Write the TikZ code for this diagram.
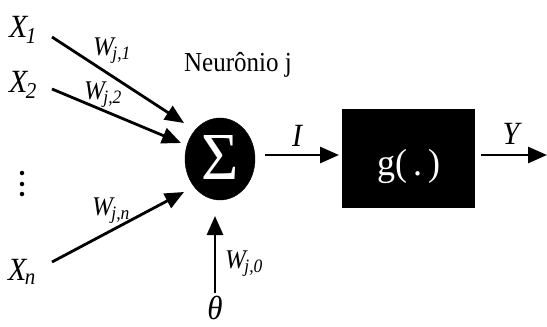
\documentclass[tikz,border=0pt]{standalone}
\usepackage{fontspec}
\setmainfont{Liberation Serif}
\usetikzlibrary{arrows.meta,shapes.geometric}
\begin{document}
\begin{tikzpicture}[x=1pt,y=-1pt,
  lbl/.style={inner sep=0pt, yscale=1.08, font=\fontsize{30}{32}\selectfont\itshape},
  wl/.style={inner sep=0pt, yscale=1.08, font=\fontsize{25}{28}\selectfont\itshape},
  arr/.style={line width=2.8pt, -{Triangle[length=19pt,width=16pt]}},
  dot/.style={circle, fill=black, inner sep=0pt, minimum size=4.5pt}]
\useasboundingbox (0,0) rectangle (547,327);
% nodes
\node[lbl] (x1) at (23,30) {X\textsubscript{\kern-1.5pt 1}};
\node[lbl] (x2) at (23,85) {X\textsubscript{\kern-1.5pt 2}};
\node[dot] (d1) at (22,173) {};
\node[dot] (d2) at (22,184) {};
\node[dot] (d3) at (22,194) {};
\node[lbl] (xn) at (22,272) {X\textsubscript{\kern-1.5pt\textit{n}}};
\node[draw, fill=black, ellipse, minimum width=70pt, minimum height=82pt, inner sep=0pt] (sum) at (220,159) {};
\node[inner sep=0pt, text=white, yscale=1.05, font=\fontsize{64}{64}\selectfont] (sig) at (220,157) {Σ};
\node[fill=black, minimum width=133pt, minimum height=99pt, inner sep=0pt] (g) at (408.5,158.5) {};
\node[inner sep=0pt, text=white, yscale=1.05, font=\fontsize{36}{38}\selectfont] (gt) at (409,166) {g(\,.\,)};
\node[inner sep=0pt, yscale=1.1, font=\fontsize{25}{28}\selectfont] (neu) at (238,65) {Neurônio j};
\node[lbl, font=\fontsize{31}{33}\selectfont\itshape] (theta) at (215,308) {θ};
\coordinate (t0) at (215,293);
\coordinate (t1) at (215,216);
\coordinate (a1s) at (52,37);
\coordinate (a1e) at (184,123);
\coordinate (a2s) at (52,89);
\coordinate (a2e) at (181,143);
\coordinate (ans) at (52,262);
\coordinate (ane) at (184,192);
\coordinate (is) at (265,155);
\coordinate (ie) at (339,155);
\coordinate (ys) at (481,155);
\coordinate (ye) at (547,155);
% labels
\node[wl] (w1) at (112,51) {W\textsubscript{\kern-1.5pt\textit{j,1}}};
\node[wl] (w2) at (103,95) {W\textsubscript{\kern-1.5pt\textit{j,2}}};
\node[wl] (wn) at (111,211) {W\textsubscript{\kern-1.5pt\textit{j,n}}};
\node[wl] (w0) at (244,264) {W\textsubscript{\kern-1.5pt\textit{j,0}}};
\node[lbl] (il) at (297,136) {I};
\node[lbl] (yl) at (511,134) {Y};
% arrows
\draw[arr] (a1s) -- (a1e);
\draw[arr] (a2s) -- (a2e);
\draw[arr] (ans) -- (ane);
\draw[arr] (t0) -- (t1);
\draw[arr] (is) -- (ie);
\draw[arr] (ys) -- (ye);
\end{tikzpicture}
\end{document}
